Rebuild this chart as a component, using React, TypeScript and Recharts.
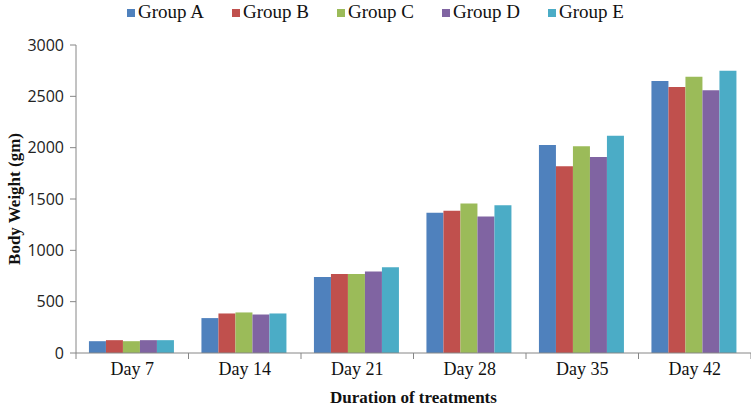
import { BarChart, Bar, XAxis, YAxis, Legend } from 'recharts'

const days = ['Day 7', 'Day 14', 'Day 21', 'Day 28', 'Day 35', 'Day 42']
const groupA = [115, 340, 740, 1365, 2025, 2650]
const groupB = [125, 385, 770, 1385, 1820, 2590]
const groupC = [115, 395, 770, 1455, 2015, 2690]
const groupD = [125, 375, 795, 1330, 1910, 2560]
const groupE = [125, 385, 835, 1440, 2115, 2750]
const yTicks = [0, 500, 1000, 1500, 2000, 2500, 3000]

const series = [
  { key: 'Group A', values: groupA, color: '#4F81BD' },
  { key: 'Group B', values: groupB, color: '#C0504D' },
  { key: 'Group C', values: groupC, color: '#9BBB59' },
  { key: 'Group D', values: groupD, color: '#8064A2' },
  { key: 'Group E', values: groupE, color: '#4BACC6' },
]

const data = days.map((day, i) => {
  const row: Record<string, string | number> = { day }
  series.forEach((s) => {
    row[s.key] = s.values[i]
  })
  return row
})

const W = 751
const H = 409
const legendH = 24
const margin = { top: 45 - legendH, right: 0, bottom: 26, left: 0 }
const yAxisWidth = 76
const band = (W - margin.left - margin.right - yAxisWidth) / days.length
const serif = "'Liberation Serif', serif"

// Excel style: label under the category, tick mark at the boundary
function DayTick(props: any) {
  const { x, y, payload, index } = props
  const left = x - band / 2
  return (
    <g>
      <line x1={left} y1={y - 8} x2={left} y2={y - 2} stroke="#868686" />
      {index === days.length - 1 && (
        <line x1={left + band} y1={y - 8} x2={left + band} y2={y - 2} stroke="#868686" />
      )}
      <text x={x} y={y + 14} textAnchor="middle" fill="#111" fontFamily={serif} fontSize={18}>
        {payload.value}
      </text>
    </g>
  )
}

function GroupLegend() {
  return (
    <div style={{ display: 'flex', justifyContent: 'center', gap: 28, height: legendH }}>
      {series.map((s) => (
        <div key={s.key} style={{ display: 'flex', alignItems: 'center' }}>
          <span style={{ width: 8, height: 8, background: s.color, marginRight: 3, marginTop: 2 }} />
          <span style={{ fontFamily: serif, fontSize: 19, color: '#111' }}>{s.key}</span>
        </div>
      ))}
    </div>
  )
}

export default function App() {
  return (
    <div style={{ position: 'absolute', left: 0, top: 0, background: '#fff' }}>
      <BarChart
        width={W}
        height={H}
        data={data}
        margin={margin}
        barCategoryGap="11.5%"
        barGap={0}
      >
        <Legend
          verticalAlign="top"
          align="center"
          height={legendH}
          content={<GroupLegend />}
          wrapperStyle={{ top: 0 }}
        />
        <XAxis
          dataKey="day"
          height={30}
          axisLine={{ stroke: '#868686' }}
          tickLine={false}
          tick={<DayTick />}
          interval={0}
          label={{
            value: 'Duration of treatments',
            position: 'insideBottom',
            offset: -20,
            fontFamily: serif,
            fontWeight: 'bold',
            fontSize: 17,
            fill: '#111',
          }}
        />
        <YAxis
          width={yAxisWidth}
          domain={[0, 3000]}
          ticks={yTicks}
          interval={0}
          axisLine={{ stroke: '#868686' }}
          tickLine={{ stroke: '#868686' }}
          tickSize={6}
          tickMargin={6}
          tick={{ fill: '#222', fontFamily: "'Open Sans', sans-serif", fontSize: 16 }}
          label={{
            value: 'Body Weight (gm)',
            angle: -90,
            position: 'insideLeft',
            offset: 14,
            style: { textAnchor: 'middle' },
            fontFamily: serif,
            fontWeight: 'bold',
            fontSize: 17,
            fill: '#111',
          }}
        />
        {series.map((s) => (
          <Bar key={s.key} dataKey={s.key} fill={s.color} isAnimationActive={false} />
        ))}
      </BarChart>
    </div>
  )
}
